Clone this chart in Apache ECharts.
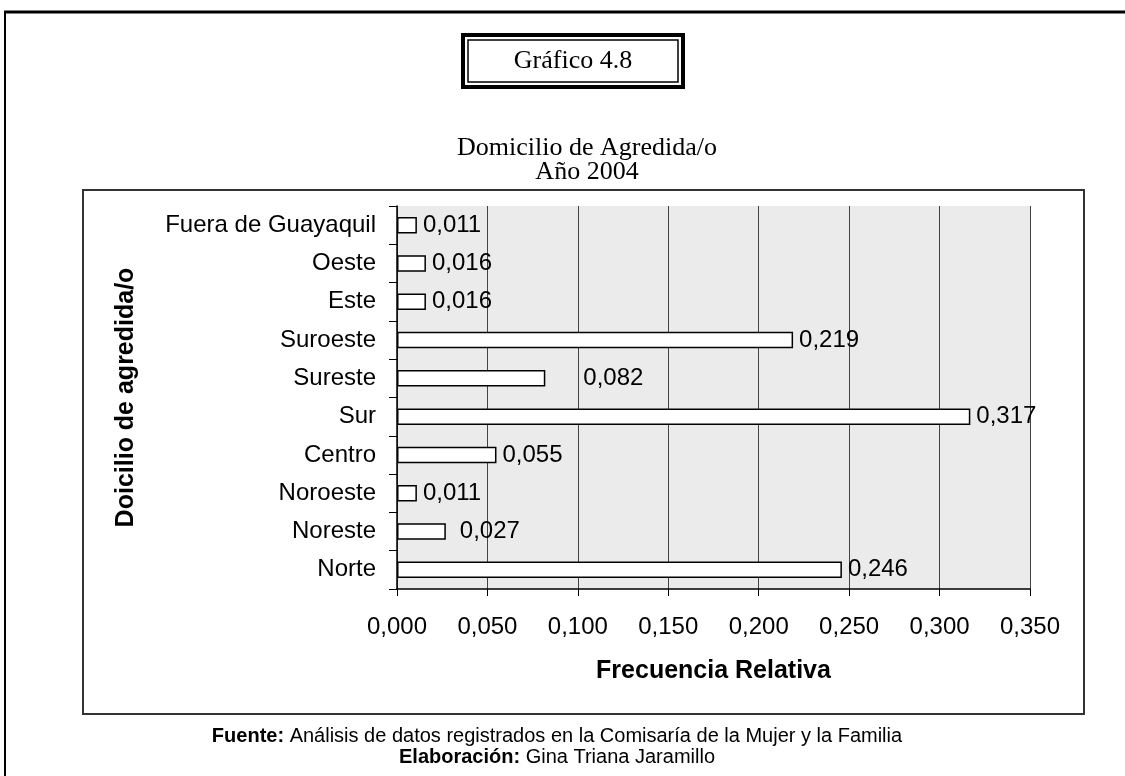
<!DOCTYPE html>
<html>
<head>
<meta charset="utf-8">
<script src="https://cdn.jsdelivr.net/npm/echarts@6/dist/echarts.min.js"></script>
<style>
  html, body { margin: 0; padding: 0; background: #fff; }
  #chart { width: 1125px; height: 776px; }
</style>
</head>
<body>
<div id="chart"></div>
<script>
// categorias de abajo hacia arriba (como en el grafico)
const categories = ['Norte', 'Noreste', 'Noroeste', 'Centro', 'Sur', 'Sureste', 'Suroeste', 'Este', 'Oeste', 'Fuera de Guayaquil']
const frecuencia = [0.246, 0.027, 0.011, 0.055, 0.317, 0.082, 0.219, 0.016, 0.016, 0.011]
const xMax = 0.35
const xStep = 0.05

const fmt = v => v.toFixed(3).replace('.', ',')
const arial = 'Arial, "Liberation Sans", sans-serif'
const times = '"Times New Roman", "Liberation Serif", serif'

// Excel dejo algunas etiquetas mas separadas de la barra
const labelGap = { Sureste: 38, Noreste: 14 }

const chart = echarts.init(document.getElementById('chart'))

chart.setOption({
  backgroundColor: '#fff',
  animation: false,
  title: {
    text: 'Domicilio de Agredida/o\nAño 2004',
    left: 582,
    top: 131,
    textAlign: 'center',
    textStyle: {
      fontFamily: times,
      fontSize: 26,
      fontWeight: 'normal',
      color: '#000',
      lineHeight: 24
    }
  },
  grid: {
    left: 397,
    right: 95,
    top: 206,
    bottom: 187,
    show: true,
    backgroundColor: '#ebebeb',
    borderWidth: 0
  },
  xAxis: {
    type: 'value',
    min: 0,
    max: xMax,
    interval: xStep,
    name: 'Frecuencia Relativa',
    nameLocation: 'middle',
    nameGap: 70,
    nameTextStyle: { fontFamily: arial, fontSize: 25, fontWeight: 'bold', color: '#000' },
    axisLine: { show: true, lineStyle: { color: '#000', width: 1.5 } },
    axisTick: { show: true, length: 7, lineStyle: { color: '#000' } },
    axisLabel: { formatter: fmt, fontFamily: arial, fontSize: 24, color: '#000', margin: 26 },
    splitLine: { show: true, lineStyle: { color: '#444', width: 1 } }
  },
  yAxis: {
    type: 'category',
    data: categories,
    name: 'Doicilio de agredida/o',
    nameLocation: 'middle',
    nameGap: 258,
    nameTextStyle: { fontFamily: arial, fontSize: 25, fontWeight: 'bold', color: '#000' },
    axisLine: { show: true, lineStyle: { color: '#000', width: 1.5 } },
    axisTick: { show: true, length: 8, lineStyle: { color: '#000' } },
    axisLabel: { fontFamily: arial, fontSize: 24, color: '#000', margin: 21 }
  },
  series: [{
    type: 'bar',
    data: frecuencia.map((v, i) => {
      const gap = labelGap[categories[i]]
      return gap ? { value: v, label: { distance: gap } } : v
    }),
    barWidth: '43%',
    itemStyle: { color: '#fff', borderColor: '#000', borderWidth: 1.5 },
    label: {
      show: true,
      position: 'right',
      distance: 6,
      formatter: p => fmt(p.value),
      fontFamily: arial,
      fontSize: 24,
      color: '#000'
    }
  }],
  graphic: [
    // marco exterior de la pagina
    { type: 'line', shape: { x1: 4, y1: 12, x2: 1125, y2: 12 }, style: { stroke: '#000', lineWidth: 3 } },
    { type: 'line', shape: { x1: 5, y1: 11, x2: 5, y2: 776 }, style: { stroke: '#000', lineWidth: 2 } },
    // marco del area del grafico
    { type: 'rect', shape: { x: 83, y: 190, width: 1001, height: 524 }, style: { fill: 'none', stroke: '#333', lineWidth: 2 }, z: -1 },
    // recuadro doble "Grafico 4.8"
    { type: 'rect', shape: { x: 463, y: 35, width: 220, height: 52 }, style: { fill: '#fff', stroke: '#000', lineWidth: 4 } },
    { type: 'rect', shape: { x: 468, y: 40, width: 210, height: 42 }, style: { fill: 'none', stroke: '#000', lineWidth: 1.5 } },
    {
      type: 'text', x: 573, y: 61,
      style: { text: 'Gráfico 4.8', font: '26px ' + times, fill: '#000', align: 'center', verticalAlign: 'middle' }
    },
    // pie de grafico
    {
      type: 'text', x: 557, y: 736,
      style: {
        text: '{b|Fuente:} Análisis de datos registrados en la Comisaría de la Mujer y la Familia',
        align: 'center', verticalAlign: 'middle',
        font: '20px ' + arial, fill: '#000',
        rich: { b: { fontFamily: arial, fontSize: 20, fontWeight: 'bold', fill: '#000' } }
      }
    },
    {
      type: 'text', x: 557, y: 757,
      style: {
        text: '{b|Elaboración:} Gina Triana Jaramillo',
        align: 'center', verticalAlign: 'middle',
        font: '20px ' + arial, fill: '#000',
        rich: { b: { fontFamily: arial, fontSize: 20, fontWeight: 'bold', fill: '#000' } }
      }
    }
  ]
})
</script>
</body>
</html>
